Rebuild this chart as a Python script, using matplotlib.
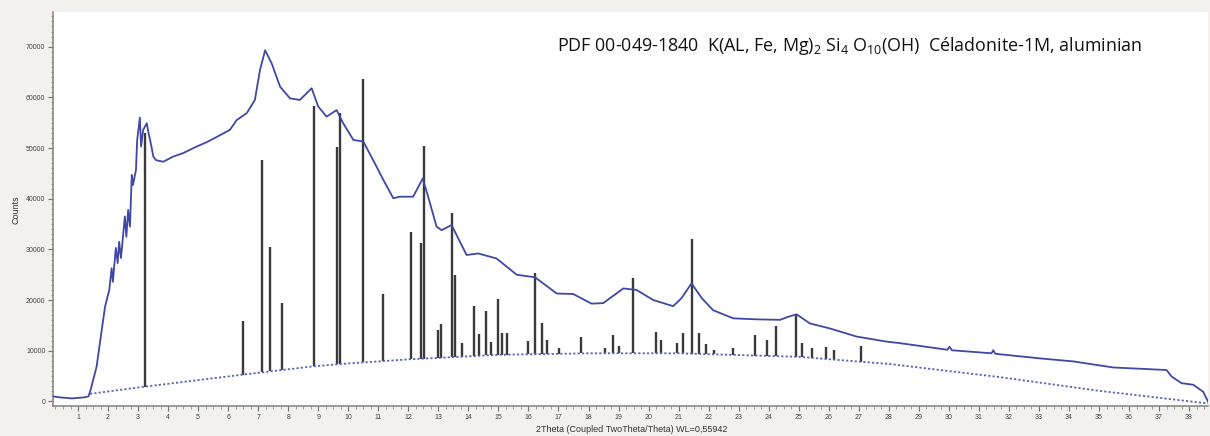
import numpy as np
import matplotlib
matplotlib.use("Agg")
import matplotlib.pyplot as plt
from matplotlib.ticker import MultipleLocator

# ---- measured pattern (2Theta, Counts) ----
scan_x = [0.17, 0.4, 0.8, 1.0, 1.2, 1.35, 1.42, 1.62, 1.79, 1.90, 2.04, 2.12, 2.16, 2.26, 2.32,
          2.37, 2.43, 2.56, 2.61, 2.67, 2.73, 2.79, 2.83, 2.93, 2.97, 3.06, 3.10, 3.17, 3.29,
          3.34, 3.40, 3.51, 3.60, 3.84, 4.16, 4.5, 4.95, 5.3, 5.62, 6.06, 6.28, 6.62, 6.89,
          7.06, 7.23, 7.45, 7.73, 8.06, 8.39, 8.78, 9.0, 9.28, 9.61, 9.83, 10.17, 10.5, 10.83,
          11.17, 11.5, 11.72, 12.16, 12.48, 12.66, 12.94, 13.11, 13.44, 13.94, 14.33, 14.94,
          15.61, 16.22, 16.94, 17.49, 18.1, 18.49, 19.16, 19.6, 20.16, 20.82, 21.1, 21.43,
          21.77, 22.15, 22.82, 23.6, 24.38, 24.65, 24.93, 25.37, 26.04, 26.93, 27.93, 28.37,
          29.95, 30.02, 30.1, 31.42, 31.48, 31.55, 33.03, 34.14, 35.48, 37.25, 37.42, 37.75,
          38.14, 38.47, 38.63]
scan_y = [1000, 800, 600, 700, 800, 1000, 2300, 6900, 14100, 18700, 22000, 26300, 23600, 30300, 27300,
          31500, 28300, 36500, 32500, 37800, 34500, 44700, 42700, 45700, 51600, 56000, 50300, 53600, 54900,
          53200, 51600, 48300, 47600, 47300, 48300, 49000, 50300, 51200, 52200, 53600, 55500, 56900, 59500,
          65400, 69300, 66700, 62100, 59800, 59500, 61800, 58200, 56200, 57500, 54900, 51600, 51300, 47600,
          43700, 40100, 40400, 40400, 44000, 40400, 34500, 33800, 34800, 28900, 29200, 28200,
          25000, 24500, 21300, 21200, 19300, 19400, 22300, 22000, 20000, 18800, 20400, 23300,
          20400, 18000, 16400, 16200, 16100, 16700, 17200, 15400, 14400, 12800, 11800, 11500,
          10200, 10800, 10100, 9500, 10100, 9400, 8500, 7900, 6700, 6200, 4900, 3600,
          3300, 1900, 0]

# ---- background curve ----
bg_x = [1.4, 3.2, 6.5, 8.8, 10.0, 12.0, 15.0, 18.0, 21.0, 25.0, 28.0, 31.7, 35.0, 38.63]
bg_y = [1500, 2900, 5300, 6900, 7500, 8300, 9200, 9500, 9500, 8800, 7400, 4800, 2100, -400]

# ---- PDF 00-049-1840 reference sticks ----
stick_x = [3.23, 6.50, 7.13, 7.40, 7.80, 8.87, 9.62, 9.72, 10.48, 11.15, 12.09, 12.41, 12.51,
           13.00, 13.09, 13.44, 13.55, 13.80, 14.19, 14.36, 14.58, 14.76, 14.97, 15.13, 15.30,
           15.99, 16.22, 16.46, 16.61, 17.03, 17.74, 18.54, 18.80, 19.02, 19.49, 20.24, 20.40,
           20.94, 21.14, 21.43, 21.68, 21.91, 22.17, 22.80, 23.54, 23.95, 24.23, 24.90, 25.10,
           25.44, 25.91, 26.18, 27.06]
stick_top = [52900, 15900, 47600, 30500, 19500, 58300, 50200, 57000, 63600, 21200, 33400, 31200, 50400,
             14100, 15200, 37100, 25000, 11500, 18800, 13300, 17900, 11800, 20200, 13500, 13500,
             11900, 25400, 15400, 12100, 10500, 12700, 10500, 13200, 10900, 24400, 13700, 12100,
             11500, 13600, 32000, 13600, 11300, 10200, 10600, 13200, 12100, 14800, 17200, 11600,
             10500, 10800, 10200, 11000]

y_ticks = [0, 10000, 20000, 30000, 40000, 50000, 60000, 70000]
x_ticks = list(range(1, 39))

title_txt = r"PDF 00-049-1840  K(AL, Fe, Mg)$_2$ Si$_4$ O$_{10}$(OH)  Céladonite-1M, aluminian"
x_label = "2Theta (Coupled TwoTheta/Theta) WL=0,55942"
y_label = "Counts"

plt.rcParams['mathtext.default'] = 'regular'

W, H = 1210, 436
fig = plt.figure(figsize=(W / 100, H / 100), dpi=100, facecolor='#f2f1ee')
ax = fig.add_axes([53 / W, 1 - 406 / H, (1208 - 53) / W, (406 - 12) / H])
ax.set_facecolor('white')

sx = np.array(stick_x)
bottoms = np.interp(sx, bg_x, bg_y)
ax.vlines(sx, bottoms, stick_top, colors='#3a3a3a', linewidth=1.7, zorder=2)

ax.plot(bg_x, bg_y, color='#5a62b8', linewidth=1.3, linestyle=(0, (1.2, 1.2)), zorder=3)
ax.plot(scan_x, scan_y, color='#3f48a4', linewidth=1.3, zorder=4)

ax.set_xlim(0.167, 38.63)
ax.set_ylim(-900, 76850)

for s in ['top', 'right']:
    ax.spines[s].set_visible(False)
for s in ['left', 'bottom']:
    ax.spines[s].set_color('#808080')
    ax.spines[s].set_linewidth(1.1)

ax.set_xticks(x_ticks)
ax.set_xticklabels([str(v) for v in x_ticks])
ax.xaxis.set_minor_locator(MultipleLocator(0.25))
ax.set_yticks(y_ticks)
ax.set_yticklabels([str(v) for v in y_ticks])
ax.yaxis.set_minor_locator(MultipleLocator(1000))
ax.tick_params(axis='both', which='major', labelsize=5, colors='#707070', labelcolor='#444444',
               length=3.5, width=0.8, pad=2, direction='out')
ax.tick_params(axis='both', which='minor', colors='#909090', length=1.8, width=0.6, direction='out')
for lab in ax.get_xticklabels() + ax.get_yticklabels():
    lab.set_family('Liberation Sans')

fig.text(632 / W, 1 - 429 / H, x_label, ha='center', va='center', fontsize=6.5,
         color='#333333', family='Liberation Sans')
fig.text(16 / W, 1 - 210 / H, y_label, ha='center', va='center', rotation=90, fontsize=6.5,
         color='#333333', family='Liberation Sans')
fig.text(557 / W, 1 - 46 / H, title_txt, ha='left', va='center', fontsize=12.9,
         color='#111111', family='Open Sans')

fig.savefig('out.png', dpi=100, facecolor=fig.get_facecolor())
